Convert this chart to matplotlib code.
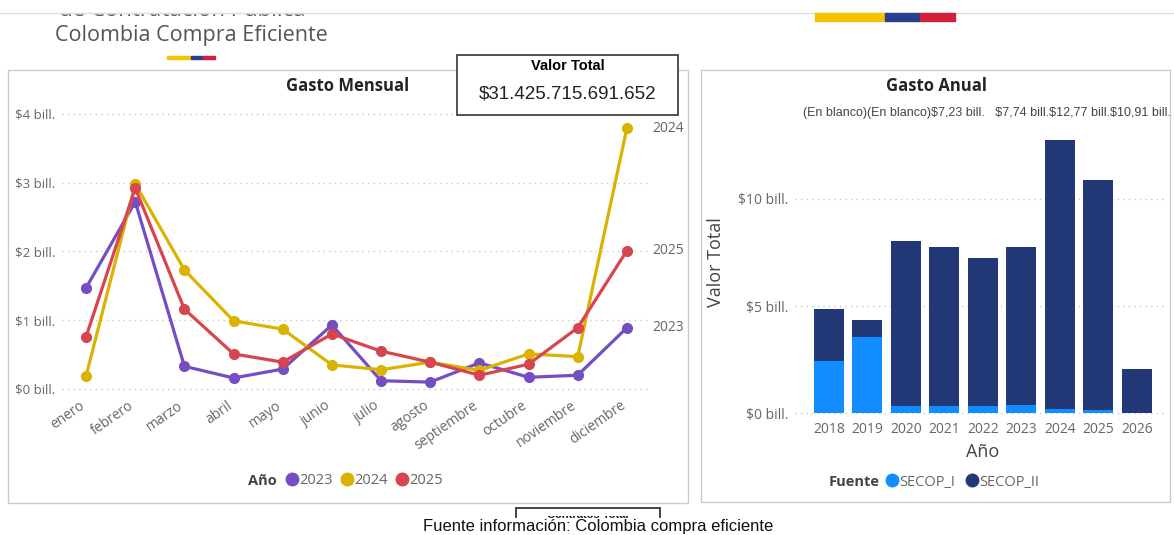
import matplotlib
matplotlib.use("Agg")
import matplotlib.pyplot as plt
from matplotlib.patches import Rectangle
from matplotlib.lines import Line2D
from matplotlib.transforms import Bbox, ScaledTranslation

# data (values in billones)
meses = ["enero", "febrero", "marzo", "abril", "mayo", "junio", "julio",
         "agosto", "septiembre", "octubre", "noviembre", "diciembre"]
gasto_2023 = [1.47, 2.72, 0.33, 0.16, 0.29, 0.93, 0.12, 0.10, 0.38, 0.17, 0.20, 0.89]
gasto_2024 = [0.19, 2.98, 1.73, 0.99, 0.87, 0.35, 0.28, 0.39, 0.27, 0.51, 0.47, 3.79]
gasto_2025 = [0.76, 2.92, 1.16, 0.51, 0.39, 0.80, 0.55, 0.39, 0.20, 0.36, 0.89, 2.01]

anios = ["2018", "2019", "2020", "2021", "2022", "2023", "2024", "2025", "2026"]
secop_i = [2.43, 3.55, 0.33, 0.33, 0.33, 0.40, 0.20, 0.15, 0.02]
secop_ii = [2.43, 0.80, 7.71, 7.43, 6.90, 7.34, 12.57, 10.76, 2.04]
etiquetas = "(En blanco)(En blanco)$7,23 bill.   $7,74 bill.$12,77 bill.$10,91 bill."

plt.rcParams["text.parse_math"] = False

W, H = 1174, 535
fig = plt.figure(figsize=(W / 100, H / 100), dpi=100)
fig.patch.set_facecolor("white")

def fx(px):
    return px / W

def fy(py):
    return 1 - py / H

def box(x0, y0, x1, y1, **kw):
    fig.add_artist(Rectangle((fx(x0), fy(y1)), fx(x1) - fx(x0), fy(y0) - fy(y1),
                             transform=fig.transFigure, **kw))

c2023, c2024, c2025 = "#744EC2", "#D9B300", "#D64550"
c_sec1, c_sec2 = "#118DFF", "#233876"
gris = "#666666"
sans = ["Open Sans", "DejaVu Sans"]
arial = ["Liberation Sans", "DejaVu Sans"]

# header
fig.text(fx(182), fy(10), "de Contratación Pública", ha="center", va="center",
         fontsize=16, color="#555555", family=sans)
box(0, 0, W, 13, color="white", zorder=5)
fig.add_artist(Line2D([0, 1], [fy(13), fy(13)], transform=fig.transFigure,
                      color="#dddddd", lw=1, zorder=6))
fig.text(fx(191), fy(36), "Colombia Compra Eficiente", ha="center", va="center",
         fontsize=15.5, color="#555555", family=sans)
for x0, x1, c in [(167, 191, "#F5C400"), (191, 203, "#2B3F8C"), (203, 215, "#D21F3C")]:
    box(x0, 56, x1, 59, color=c)
for x0, x1, c in [(815, 885, "#F5C400"), (885, 920, "#2B3F8C"), (920, 955, "#D21F3C")]:
    box(x0, 13, x1, 21, color=c, zorder=7)

# panels
box(8, 70, 688, 503, fill=False, edgecolor="#cccccc", lw=1)
box(701, 70, 1170, 502, fill=False, edgecolor="#cccccc", lw=1)

# ---- Gasto Mensual ----
ax = fig.add_axes([fx(62), fy(400), fx(650) - fx(62), fy(100) - fy(400)])
x = range(len(meses))
for vals, c in [(gasto_2023, c2023), (gasto_2024, c2024), (gasto_2025, c2025)]:
    ax.plot(x, vals, color=c, lw=2.3, marker="o", ms=7, solid_capstyle="round")
ax.set_xlim(-0.49, 11.47)
ax.set_ylim(-0.16, 4.2)
ax.set_yticks([0, 1, 2, 3, 4])
ax.set_yticklabels(["$0 bill.", "$1 bill.", "$2 bill.", "$3 bill.", "$4 bill."])
ax.set_xticks(list(x))
ax.set_xticklabels(meses, rotation=35, ha="right", rotation_mode="anchor")
ax.tick_params(axis="x", length=0, labelsize=10, labelcolor=gris, pad=0)
ax.tick_params(axis="y", length=0, labelsize=9.5, labelcolor=gris, pad=5)
shift = ScaledTranslation(-0.07, 0.02, fig.dpi_scale_trans)
for lab in ax.get_xticklabels():
    lab.set_transform(lab.get_transform() + shift)
for lab in ax.get_xticklabels() + ax.get_yticklabels():
    lab.set_family(sans)
ax.grid(axis="y", color="#c8c8c8", ls=(0, (1, 3)), lw=1)
for s in ax.spines.values():
    s.set_visible(False)
for yv, t in [(gasto_2024[-1], "2024"), (gasto_2025[-1], "2025"), (gasto_2023[-1], "2023")]:
    ax.annotate(t, (11, yv), xytext=(18, 0), textcoords="offset points", va="center",
                fontsize=10, color=gris, family=sans, annotation_clip=False)
fig.text(fx(348), fy(86), "Gasto Mensual", ha="center", va="center", fontsize=12,
         fontweight="bold", color="#252423", family=sans)
fig.text(fx(262), fy(481), "Año", ha="center", va="center", fontsize=10.5,
         fontweight="bold", color="#444444", family=sans)
hl = [Line2D([], [], ls="none", marker="o", ms=9, color=c) for c in (c2023, c2024, c2025)]
fig.legend(hl, ["2023", "2024", "2025"], loc="center left",
           bbox_to_anchor=(fx(280), fy(481)), ncol=3, frameon=False,
           handletextpad=-0.1, columnspacing=0.4, handlelength=1.2,
           borderaxespad=0, borderpad=0.2,
           prop={"family": sans, "size": 10.5}, labelcolor=gris)

# Valor Total card
box(457, 55, 678, 115, facecolor="white", edgecolor="#333333", lw=1.2, zorder=8)
fig.text(fx(568), fy(66), "Valor Total", ha="center", va="center", fontsize=10.5,
         fontweight="bold", family=arial, zorder=9)
fig.text(fx(568), fy(94), "$31.425.715.691.652", ha="center", va="center",
         fontsize=13.5, family=arial, color="#222222", zorder=9)

# ---- Gasto Anual ----
ax2 = fig.add_axes([fx(795), fy(415), fx(1165) - fx(795), fy(120) - fy(415)])
xb = range(len(anios))
ax2.bar(xb, secop_i, width=0.78, color=c_sec1, zorder=3)
ax2.bar(xb, secop_ii, width=0.78, bottom=secop_i, color=c_sec2, zorder=3)
ax2.set_xlim(-0.88, 8.73)
ax2.set_ylim(-0.09, 13.69)
ax2.set_yticks([0, 5, 10])
ax2.set_yticklabels(["$0 bill.", "$5 bill.", "$10 bill."])
ax2.set_xticks(list(xb))
ax2.set_xticklabels(anios)
ax2.tick_params(length=0, labelsize=10, labelcolor=gris, pad=5)
for lab in ax2.get_xticklabels() + ax2.get_yticklabels():
    lab.set_family(sans)
ax2.grid(axis="y", color="#c8c8c8", ls=(0, (1, 3)), lw=1, zorder=0)
for s in ax2.spines.values():
    s.set_visible(False)
fig.text(fx(716), fy(262), "Valor Total", rotation=90, ha="center", va="center",
         fontsize=13, color="#444444", family=sans)
fig.text(fx(983), fy(452), "Año", ha="center", va="center", fontsize=13,
         color="#444444", family=sans)
fig.text(fx(937), fy(86), "Gasto Anual", ha="center", va="center", fontsize=12,
         fontweight="bold", color="#252423", family=sans)
fig.text(fx(987), fy(113), etiquetas, ha="center", va="center", fontsize=9,
         color="#444444", family=arial)
fig.text(fx(854), fy(482), "Fuente", ha="center", va="center", fontsize=10.5,
         fontweight="bold", color="#444444", family=sans)
hb = [Line2D([], [], ls="none", marker="o", ms=9, color=c) for c in (c_sec1, c_sec2)]
fig.legend(hb, ["SECOP_I", "SECOP_II"], loc="center left",
           bbox_to_anchor=(fx(880), fy(482)), ncol=2, frameon=False,
           handletextpad=-0.1, columnspacing=0.6, handlelength=1.2,
           borderaxespad=0, borderpad=0.2,
           prop={"family": sans, "size": 10.5}, labelcolor=gris)

# footer: card peeking out under the source line
box(516, 508, 660, 540, fill=False, edgecolor="#222222", lw=1.2, zorder=2)
t = fig.text(fx(588), fy(510), "Contratos Total", ha="center", va="top",
             fontsize=8, fontweight="bold", family=arial, zorder=2)
t.set_clip_box(Bbox([[0, 0], [W, H - 516]]))
t.set_clip_on(True)
box(300, 518, 900, 535, color="white", zorder=3)
fig.text(fx(598), fy(527), "Fuente información: Colombia compra eficiente",
         ha="center", va="center", fontsize=12, family=arial, color="#111111",
         zorder=4)

fig.savefig("out.png", dpi=100)
